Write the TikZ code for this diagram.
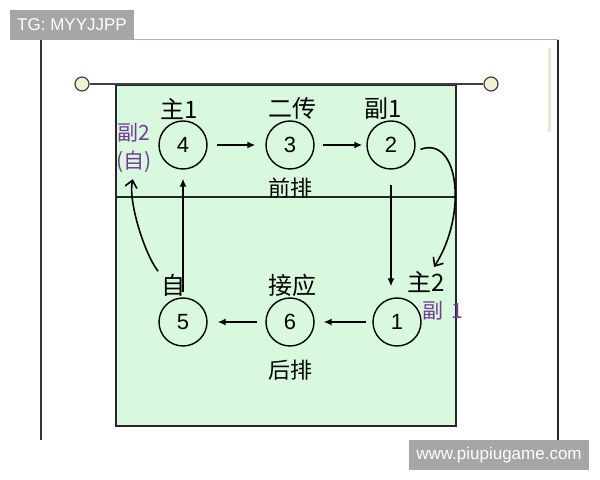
\documentclass[tikz,border=0pt]{standalone}
\usepackage{fontspec}
\setsansfont{Liberation Sans}
\newfontfamily\cjk{Noto Sans CJK SC}
\usetikzlibrary{arrows.meta, positioning}

\definecolor{courtgreen}{RGB}{216,249,222}
\definecolor{handpurple}{RGB}{118,58,150}
\definecolor{wmgray}{RGB}{166,166,166}
\definecolor{posttan}{RGB}{242,240,208}
\definecolor{frametan}{RGB}{185,180,155}
\definecolor{tanbar}{RGB}{240,230,204}

\begin{document}
\begin{tikzpicture}[x=0.5pt, y=-0.5pt,
    spot/.style={circle, draw, line width=0.7pt, minimum size=24pt, inner sep=0pt, font=\sffamily\fontsize{11}{13}\selectfont},
    role/.style={inner sep=0pt, font=\cjk\fontsize{12}{14}\selectfont},
    subrole/.style={inner sep=0pt, text=handpurple, font=\cjk\fontsize{10.5}{12}\selectfont},
    rowname/.style={inner sep=0pt, font=\cjk\fontsize{11}{13}\selectfont},
    rotarrow/.style={line width=0.7pt, -{Latex[length=4pt, width=3.5pt]}},
    handarrow/.style={line width=0.8pt, -{Straight Barb[length=3.5pt, width=6pt]}},
    netpost/.style={circle, draw=black!75, fill=posttan, line width=0.6pt, minimum size=7pt, inner sep=0pt},
    wmbox/.style={fill=wmgray, text=white, inner sep=0pt, font=\sffamily\fontsize{8.5}{10}\selectfont}]

    % page and frame
    \fill[white] (0,0) rectangle (600,480);
    \useasboundingbox (0,0) rectangle (600,480);
    \draw[frametan, line width=0.5pt] (41,40) -- (558,40);
    \draw[black!80, line width=0.6pt] (41,40) -- (41,440);
    \draw[black!85, line width=0.7pt] (558,40) -- (558,440);
    \draw[tanbar, line width=1.5pt] (549,48) -- (549,132);

    % court
    \draw[black!85, line width=1pt, fill=courtgreen] (116,85) rectangle (456,426);
    \draw[black!85, line width=0.7pt] (116,197) -- (456,197);

    % net
    \node[netpost] (postL) at (82,84) {};
    \node[netpost] (postR) at (491,84) {};
    \draw[black!75, line width=0.8pt] (postL) -- (postR);

    % positions
    \node[spot] (n4) at (183,145) {4};
    \node[spot] (n3) at (290,145) {3};
    \node[spot] (n2) at (391,145) {2};
    \node[spot] (n5) at (183,322) {5};
    \node[spot] (n6) at (290,322) {6};
    \node[spot] (n1) at (397,322) {1};

    % roles
    \node[role, above = 0pt of n4, xshift=-2pt] (mainA) {主1};
    \node[role, above = 0pt of n3, xshift=1pt] (setter) {二传};
    \node[role, above = 0pt of n2, xshift=-4pt] (midA) {副1};
    \node[subrole] (midB) at (134,133) {副2};
    \node[subrole] (selfA) at (134,162) {(自)};
    \node[rowname, below = 4pt of n3] (front) {前排};
    \node[role, above = 0pt of n5, xshift=-5pt] (selfB) {自};
    \node[role, above = 0pt of n6, xshift=1pt] (oppo) {接应};
    \node[role] (mainB) at (426,282) {主2};
    \node[subrole, anchor=west] (midC) at (422,311) {副\hspace{4pt}1};
    \node[rowname, below = 6.5pt of n6] (back) {后排};

    % rotation
    \draw[rotarrow, shorten <=4.5pt, shorten >=5pt] (n4) -- (n3);
    \draw[rotarrow, shorten <=4pt, shorten >=2pt] (n3) -- (n2);
    \draw[rotarrow, shorten <=7.5pt, shorten >=5.5pt] (n2.south) -- (n2.south |- n1.north);
    \draw[rotarrow, shorten <=3pt, shorten >=4.5pt] (n1) -- (n6);
    \draw[rotarrow, shorten <=4pt, shorten >=5pt] (n6) -- (n5);
    \draw[rotarrow, shorten <=2.5pt, shorten >=4.5pt] (n5) -- (n4);

    \draw[handarrow, shorten <=3pt] (n2.-15) .. controls +(44,-16) and +(34,-53) .. ([xshift=4pt,yshift=2pt]mainB.north);
    \draw[handarrow, shorten <=2pt, shorten >=3pt] (selfB.north west) .. controls +(-16,-20) and +(-6,28) .. (selfA.south);

    % watermarks
    \node[wmbox, minimum width=62pt, minimum height=15pt] (tg) at (72,25) {TG: MYYJJPP};
    \node[wmbox, minimum width=90pt, minimum height=15pt] (site) at (499,455) {www.piupiugame.com};
\end{tikzpicture}
\end{document}
